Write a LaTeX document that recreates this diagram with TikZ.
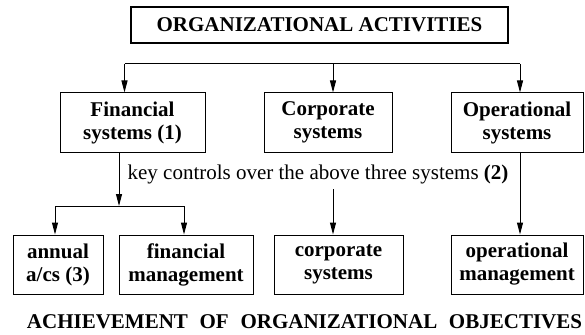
\documentclass[tikz,border=0pt]{standalone}
\usepackage{fontspec}
\setmainfont{Liberation Serif}
\usetikzlibrary{arrows.meta}
\tikzset{
  box/.style={draw, line width=1pt, inner sep=0pt, minimum height=59pt, align=center,
    font=\fontsize{21}{23}\selectfont\bfseries},
  conn/.style={line width=1pt},
  arr/.style={line width=1pt, -{Triangle[length=12pt,width=6pt]}},
}
\begin{document}
\begin{tikzpicture}[x=1pt,y=-1pt]
\useasboundingbox (0,0) rectangle (585,334);
% top
\node[draw, line width=2pt, inner sep=0pt, minimum width=377pt, minimum height=36pt,
  font=\fontsize{21}{23}\selectfont\bfseries] (top) at (319.5,25) {ORGANIZATIONAL ACTIVITIES};
% middle row
\node[box, minimum width=145pt] (fin) at (132.5,122.5) {Financial\\systems (1)};
\node[box, minimum width=128pt] (corp) at (328,122.5) {Corporate\\systems};
\node[box, minimum width=132pt] (oper) at (517,122.5) {Operational\\systems};
% bottom row
\node[box, minimum width=90pt] (annual) at (58,264.5) {annual\\a/cs (3)};
\node[box, minimum width=134pt] (finman) at (186,264.5) {financial\\management};
\node[box, minimum width=129pt] (corpsys) at (338.5,264.5) {corporate\\systems};
\node[box, minimum width=132pt] (opman) at (517,264.5) {operational\\management};
% top distribution
\coordinate (h1) at (124.5,64);
\coordinate (h2) at (333,64);
\coordinate (h3) at (520,64);
\draw[conn] (h1) -- (h3);
\draw[arr] (h1) -- (fin.north -| h1);
\draw[arr] (h2) -- (corp.north -| h2);
\draw[arr] (h3) -- (oper.north -| h3);
% key controls text
\node[anchor=base, inner sep=0pt, font=\fontsize{21}{23}\selectfont] (key) at (318,179.3)
  {key controls over the above three systems \textbf{(2)}};
% financial branch
\coordinate (f1) at (119,152);
\coordinate (f2) at (119,206);
\coordinate (fl) at (55,206);
\coordinate (fr) at (184,206);
\draw[arr] (fin.south -| f1) -- (f2);
\draw[conn] (fl) -- (fr);
\draw[arr] (fl) -- (annual.north -| fl);
\draw[arr] (fr) -- (finman.north -| fr);
% corporate
\coordinate (c1) at (333,189);
\draw[arr] (c1) -- (corpsys.north -| c1);
% operational
\draw[arr] (oper.south -| h3) -- (opman.north -| h3);
% bottom text
\node[anchor=base, inner sep=0pt, font=\fontsize{21}{23}\selectfont\bfseries] (ach) at (304.5,328)
  {ACHIEVEMENT\hspace{11.7pt}OF\hspace{11.7pt}ORGANIZATIONAL\hspace{11.7pt}OBJECTIVES};
\end{tikzpicture}
\end{document}
